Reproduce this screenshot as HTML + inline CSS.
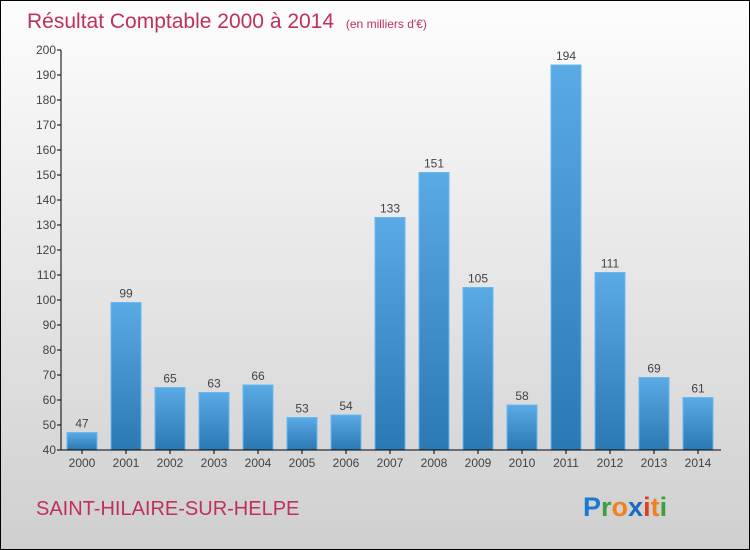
<!DOCTYPE html>
<html><head><meta charset="utf-8"><style>
body{margin:0}
#c{position:relative;width:748px;height:548px;border:1px solid #000;background:linear-gradient(#fdfdfd,#cfcfcf);font-family:"Liberation Sans",sans-serif;overflow:hidden}
</style></head><body>
<div id="c">
<svg width="748" height="548">
<defs><linearGradient id="g" x1="0" y1="0" x2="0" y2="1"><stop offset="0" stop-color="#5aaae6"/><stop offset="1" stop-color="#2a78b4"/></linearGradient></defs>
<text x="26" y="27" font-size="21" fill="#c0305a">Résultat Comptable 2000 à 2014 <tspan font-size="12" dx="6">(en milliers d'€)</tspan></text>
<g id="plot"></g>
<text x="35" y="514" font-size="20" fill="#c0305a">SAINT-HILAIRE-SUR-HELPE</text>
<text x="582" y="515" font-size="27" font-weight="bold"><tspan fill="#1a7ad0">P</tspan><tspan fill="#3aa040">r</tspan><tspan fill="#f08020">o</tspan><tspan fill="#1a6ac0">x</tspan><tspan fill="#e04020">i</tspan><tspan fill="#f08020">t</tspan><tspan fill="#3aa040">i</tspan></text>
</svg></div>
<script>
const years=["2000","2001","2002","2003","2004","2005","2006","2007","2008","2009","2010","2011","2012","2013","2014"];
const values=[47,99,65,63,66,53,54,133,151,105,58,194,111,69,61];
const ticks=[40,50,60,70,80,90,100,110,120,130,140,150,160,170,180,190,200];
const ns="http://www.w3.org/2000/svg",g=document.getElementById('plot');
const y=v=>449-(v-40)*2.5, x=i=>81+i*44;
function mk(t,a,txt){const e=document.createElementNS(ns,t);for(const k in a)e.setAttribute(k,a[k]);if(txt!==undefined)e.textContent=txt;g.appendChild(e);return e;}
ticks.forEach(t=>{
 let l=mk('line',{x1:56,x2:60,y1:y(t),y2:y(t),stroke:'#000'});
 
 
 let tx=mk('text',{x:55,y:y(t)+4,'font-size':12,fill:'#444','text-anchor':'end'},t);
 
 
});
values.forEach((v,i)=>{
 let r=mk('rect',{x:x(i)-15,y:y(v),width:30,height:y(40)-y(v),fill:'url(#g)',stroke:'#6ab8f0','stroke-width':1});
 
 
 let vl=mk('text',{x:x(i),y:y(v)-5,'font-size':12,fill:'#444','text-anchor':'middle'},v);
 
 
 let tk=mk('line',{x1:x(i),x2:x(i),y1:449,y2:453,stroke:'#000'});
 
 
 let xl=mk('text',{x:x(i),y:466,'font-size':12,fill:'#444','text-anchor':'middle'},years[i]);
 
 
});
let ya=mk('line',{x1:60,x2:60,y1:y(200),y2:449,stroke:'#000'});


let xa=mk('line',{x1:60,x2:720,y1:449,y2:449,stroke:'#000'});


</script>
</body></html>
